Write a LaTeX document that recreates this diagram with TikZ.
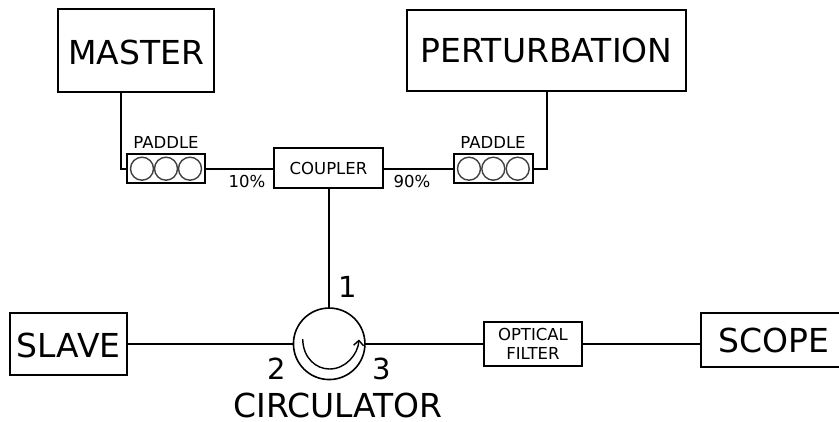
\documentclass[tikz,border=0pt]{standalone}
\usepackage{fontspec}
\usetikzlibrary{arrows.meta}
\setmainfont{DejaVu Sans}
\definecolor{padgray}{gray}{0.25}
\tikzset{
  x=1pt,y=-1pt,
  box/.style={draw,line width=1.6pt,inner sep=0pt,outer sep=0pt,anchor=north west},
  wire/.style={line width=1.6pt},
  big/.style={font=\fontsize{33}{38}\selectfont,text height=24pt,text depth=0pt},
  small/.style={font=\fontsize{16.5}{19.5}\selectfont,align=center},
  label/.style={inner sep=0pt,outer sep=0pt},
  num/.style={font=\fontsize{29}{34}\selectfont,text height=21.2pt,text depth=0pt,inner sep=0pt},
  pad/.style={draw=padgray,circle,line width=1.4pt,minimum size=23pt,inner sep=0pt,outer sep=0pt}
}
\begin{document}
\begin{tikzpicture}
\useasboundingbox (0,0) rectangle (839,421);
\node[box,big,text height=28pt,minimum width=156pt,minimum height=83pt] (master) at (58,9) {MASTER};
\node[box,big,minimum width=279pt,minimum height=81pt] (pert) at (407,10) {PERTURBATION};
\node[box,big,text height=26pt,minimum width=117pt,minimum height=62pt] (slave) at (10,313) {SLAVE};
\node[box,big,minimum width=146pt,minimum height=54pt] (scope) at (701,313) {SCOPE};
\node[box,small,minimum width=109pt,minimum height=40pt] (coupler) at (274,148) {COUPLER};
\node[box,small,minimum width=98pt,minimum height=44pt] (filter) at (484,322) {OPTICAL\\FILTER};
\node[box,minimum width=78pt,minimum height=29pt] (p1) at (127,154) {};
\node[box,minimum width=79pt,minimum height=29pt] (p2) at (454,154) {};
\node[pad] (a1) at (142,168.7) {};
\node[pad] (a2) at (166,168.7) {};
\node[pad] (a3) at (190,168.7) {};
\node[pad] (b1) at (469,168.7) {};
\node[pad] (b2) at (493.3,168.7) {};
\node[pad] (b3) at (517.7,168.7) {};
\node[small,label] (lp1) at (166,142) {PADDLE};
\node[small,label] (lp2) at (493,142) {PADDLE};
\node[small,label] (l10) at (247,181.5) {10\%};
\node[small,label] (l90) at (412,181.5) {90\%};
\node[draw,circle,line width=1.6pt,minimum size=71.5pt,inner sep=0pt,outer sep=0pt] (circ) at (329.2,343.8) {};
\node[num] (n1) at (348,287) {1};
\node[num] (n2) at (276.7,369) {2};
\node[num] (n3) at (381.5,369) {3};
\node[big,label] (lc) at (338,405.4) {CIRCULATOR};
\coordinate (m1) at (121,92);
\coordinate (m2) at (121,169);
\coordinate (q1) at (547,91);
\coordinate (q2) at (547,169);
\coordinate (s1) at (329,188);
\coordinate (wy) at (400,344);
\coordinate (arcs) at (302.7,339);
\coordinate (arce) at (359,339.5);
\draw[wire] (m1) -- (m2) -- (m2 -| p1.west);
\draw[wire] (q1) -- (q2) -- (q2 -| p2.east);
\draw[wire] (m2 -| p1.east) -- (m2 -| coupler.west);
\draw[wire] (q2 -| coupler.east) -- (q2 -| p2.west);
\draw[wire] (s1) -- (s1 |- circ.north);
\draw[wire] (wy -| slave.east) -- (wy -| circ.west);
\draw[wire] (wy -| circ.east) -- (wy -| filter.west);
\draw[wire] (wy -| filter.east) -- (wy -| scope.west);
\draw[line width=1.4pt,-{Straight Barb[length=5pt,width=10pt]}] (arcs) .. controls (303,358) and (316,369) .. (329.5,369) .. controls (346,369) and (358,354) .. (arce);
\end{tikzpicture}
\end{document}
